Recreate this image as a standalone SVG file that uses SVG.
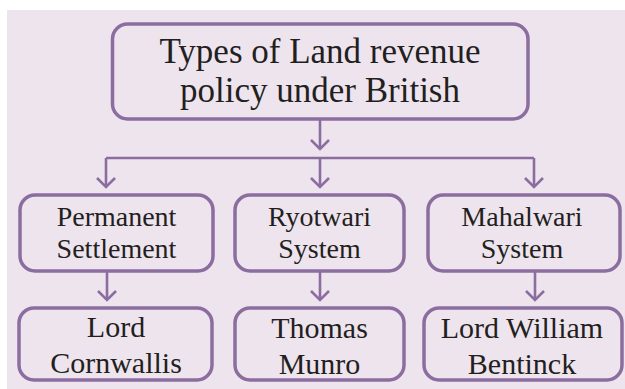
<svg xmlns="http://www.w3.org/2000/svg" width="625" height="389" viewBox="0 0 625 389">
  <defs>
    <style>
      .box { fill: none; stroke: #8B6DA0; stroke-width: 3.5; }
      .conn { fill: none; stroke: #8B6DA0; stroke-width: 2.6; }
      .t { font-family: 'Liberation Serif', 'DejaVu Serif', serif; fill: #231F20; text-anchor: middle; }
      .big { font-size: 35px; }
      .mid { font-size: 30px; }
      .sm { font-size: 28px; }
    </style>
    <marker id="chev" markerUnits="userSpaceOnUse" viewBox="-12 -12 14 24" refX="0" refY="0" markerWidth="14" markerHeight="24" orient="auto" overflow="visible">
      <path d="M-9,-9 L0,0 L-9,9" fill="none" stroke="#8B6DA0" stroke-width="2.6"/>
    </marker>
  </defs>
  <rect x="7" y="10" width="618" height="379" fill="#EEE4EE"/>

  <g id="connectors">
    <path class="conn" d="M320,119 V149" marker-end="url(#chev)"/>
    <path class="conn" d="M106,158 H534"/>
    <path class="conn" d="M106,158 V187" marker-end="url(#chev)"/>
    <path class="conn" d="M320,158 V187" marker-end="url(#chev)"/>
    <path class="conn" d="M534,158 V187" marker-end="url(#chev)"/>
    <path class="conn" d="M107,271 V300" marker-end="url(#chev)"/>
    <path class="conn" d="M320,271 V300" marker-end="url(#chev)"/>
    <path class="conn" d="M535,271 V300" marker-end="url(#chev)"/>
  </g>

  <g id="root">
    <rect class="box" x="112.5" y="24" width="415.5" height="95" rx="15"/>
    <text class="t big" x="320" y="63">Types of Land revenue</text>
    <text class="t big" x="320" y="102">policy under British</text>
  </g>

  <g id="permanent">
    <rect class="box" x="20" y="195" width="193" height="76" rx="15"/>
    <text class="t sm" x="116.5" y="226">Permanent</text>
    <text class="t sm" x="116.5" y="258">Settlement</text>
  </g>
  <g id="ryotwari">
    <rect class="box" x="235" y="195" width="169" height="76" rx="15"/>
    <text class="t sm" x="319.5" y="226">Ryotwari</text>
    <text class="t sm" x="319.5" y="258">System</text>
  </g>
  <g id="mahalwari">
    <rect class="box" x="428" y="195" width="192" height="76" rx="15"/>
    <text class="t sm" x="522" y="226">Mahalwari</text>
    <text class="t sm" x="522" y="258">System</text>
  </g>

  <g id="cornwallis">
    <rect class="box" x="19" y="308" width="193" height="72" rx="15"/>
    <text class="t mid" x="116" y="337">Lord</text>
    <text class="t mid" x="116" y="373">Cornwallis</text>
  </g>
  <g id="munro">
    <rect class="box" x="235" y="308" width="169" height="72" rx="15"/>
    <text class="t mid" x="319.5" y="338">Thomas</text>
    <text class="t mid" x="319.5" y="374">Munro</text>
  </g>
  <g id="bentinck">
    <rect class="box" x="424" y="308" width="198" height="72" rx="15"/>
    <text class="t mid" x="522" y="338">Lord William</text>
    <text class="t mid" x="522" y="374">Bentinck</text>
  </g>
</svg>
